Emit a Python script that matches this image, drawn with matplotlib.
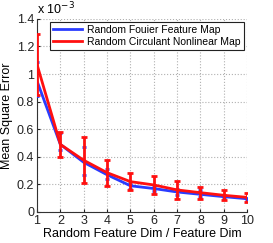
import numpy as np
import matplotlib.pyplot as plt
from matplotlib.lines import Line2D

dims = np.arange(1, 11)

# values in units of 1e-3
rff_mean = [0.95, 0.49, 0.36, 0.27, 0.19, 0.17, 0.145, 0.128, 0.111, 0.096]
rff_lo = [0.84, 0.45, 0.265, 0.24, 0.17, 0.15, 0.125, 0.11, 0.10, 0.085]
rff_hi = [1.09, 0.57, 0.473, 0.31, 0.21, 0.19, 0.17, 0.16, 0.125, 0.105]

rcnm_mean = [1.07, 0.49, 0.375, 0.285, 0.22, 0.196, 0.16, 0.14, 0.121, 0.106]
rcnm_lo = [0.85, 0.40, 0.21, 0.19, 0.16, 0.13, 0.092, 0.094, 0.087, 0.075]
rcnm_hi = [1.29, 0.58, 0.54, 0.375, 0.285, 0.26, 0.227, 0.179, 0.159, 0.135]

labels = ['Random Fouier Feature Map', 'Random Circulant Nonlinear Map']
blue, red = '#2a3cff', '#ff1010'

plt.rcParams['font.family'] = 'Liberation Sans'
fig = plt.figure(figsize=(2.73, 2.43), dpi=100)
ax = fig.add_axes([0.1355, 0.1276, 0.77, 0.795])

rff_mean = np.array(rff_mean)
rcnm_mean = np.array(rcnm_mean)
ax.errorbar(dims, rff_mean, yerr=[rff_mean - rff_lo, np.array(rff_hi) - rff_mean],
            color=blue, lw=2, elinewidth=0.8, capsize=1.5, capthick=2, zorder=3)
ax.errorbar(dims, rcnm_mean, yerr=[rcnm_mean - rcnm_lo, np.array(rcnm_hi) - rcnm_mean],
            color=red, lw=2, elinewidth=2, capsize=2.5, capthick=2, zorder=4)

ax.set_xlim(1, 10)
ax.set_ylim(0, 1.4)
ax.set_xticks(dims)
ax.set_yticks([0, 0.2, 0.4, 0.6, 0.8, 1, 1.2, 1.4])
ax.set_yticklabels(['0', '0.2', '0.4', '0.6', '0.8', '1', '1.2', '1.4'])
ax.tick_params(direction='in', length=2, labelsize=9, colors='#222222', pad=2)
ax.grid(True, linestyle=':', color='#b0b0b0', lw=0.8)
for s in ['top', 'right']:
    ax.spines[s].set_visible(False)
for s in ['left', 'bottom']:
    ax.spines[s].set_color('#333333')

ax.set_xlabel('Random Feature Dim / Feature Dim', fontsize=9, labelpad=1)
ax.set_ylabel('Mean Square Error', fontsize=9, labelpad=3)
ax.text(0.0, 1.01, r'x 10$^{-3}$', transform=ax.transAxes, fontsize=9, va='bottom')

handles = [Line2D([], [], color=blue, lw=2), Line2D([], [], color=red, lw=2)]
leg = ax.legend(handles, labels, loc='upper right', fontsize=7.5, frameon=True,
                fancybox=False, handlelength=2.8, handletextpad=0.5,
                borderpad=0.3, labelspacing=0.2, borderaxespad=0.3)
leg.get_frame().set_edgecolor('#222222')
leg.get_frame().set_linewidth(0.8)
leg.get_frame().set_alpha(1)

fig.savefig('out.png', dpi=100)
